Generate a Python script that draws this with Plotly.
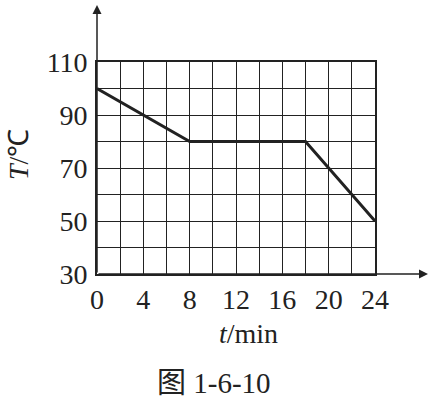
import plotly.graph_objects as go

# Data
time_min = [0, 8, 18, 24]
temp_c = [100, 80, 80, 50]
x_tick_vals = [0, 4, 8, 12, 16, 20, 24]
y_tick_vals = [30, 50, 70, 90, 110]

INK = "#222222"
SERIF = "Liberation Serif, Times New Roman, serif"
CAP_FONT = "Liberation Serif, Noto Sans CJK SC, serif"
FS = 28

fig = go.Figure()
fig.add_trace(go.Scatter(
    x=time_min, y=temp_c, mode="lines",
    line=dict(color=INK, width=3), showlegend=False, hoverinfo="skip",
))

L, R, T, B = 97, 61, 62, 124
W, H = 436, 398
pw, ph = W - L - R, H - T - B
axis_y = H - B  # pixel row of x axis


def px_x(p):
    return (p - L) / pw


def px_y(p):
    return (axis_y - p) / ph


fig.update_layout(
    width=W, height=H,
    margin=dict(l=L, r=R, t=T, b=B, pad=0),
    paper_bgcolor="white", plot_bgcolor="white",
    font=dict(family=SERIF, size=FS, color=INK),
    xaxis=dict(
        range=[0, 24], tickvals=x_tick_vals, ticks="", showgrid=True,
        gridcolor=INK, gridwidth=1.4, zeroline=False,
        showline=True, linecolor=INK, linewidth=1.6, mirror=True,
        minor=dict(dtick=2, showgrid=True, gridcolor=INK, gridwidth=1.4),
        tickfont=dict(family=SERIF, size=FS, color=INK),
        ticklabelstandoff=0,
    ),
    yaxis=dict(
        range=[30, 110], tickvals=y_tick_vals, ticks="", showgrid=True,
        gridcolor=INK, gridwidth=1.4, zeroline=False,
        showline=True, linecolor=INK, linewidth=1.6, mirror=True,
        minor=dict(dtick=10, showgrid=True, gridcolor=INK, gridwidth=1.4),
        tickfont=dict(family=SERIF, size=FS, color=INK),
        ticklabelstandoff=2,
    ),
)

# axis arrows
fig.add_annotation(xref="paper", yref="paper", x=0, y=px_y(5),
                   ax=0, ay=axis_y - 5, axref="pixel", ayref="pixel",
                   showarrow=True, arrowhead=2, arrowsize=1.2, arrowwidth=1.5,
                   arrowcolor=INK, text="")
fig.add_annotation(xref="paper", yref="paper", x=px_x(428), y=0,
                   ax=-(428 - L), ay=0, axref="pixel", ayref="pixel",
                   showarrow=True, arrowhead=2, arrowsize=1.2, arrowwidth=1.5,
                   arrowcolor=INK, text="")

# axis titles
fig.add_annotation(xref="paper", yref="paper", x=px_x(248), y=px_y(333),
                   xanchor="center", yanchor="middle",
                   text="<i>t</i>/min", showarrow=False,
                   font=dict(family=SERIF, size=FS, color=INK))
fig.add_annotation(xref="paper", yref="paper", x=px_x(18), y=px_y(155),
                   xanchor="center", yanchor="middle",
                   text="<i>T</i>/℃", textangle=-90, showarrow=False,
                   font=dict(family=SERIF, size=FS, color=INK))
# caption
fig.add_annotation(xref="paper", yref="paper", x=px_x(214), y=px_y(383),
                   xanchor="center", yanchor="middle",
                   text="图 1-6-10", showarrow=False,
                   font=dict(family=CAP_FONT, size=29, color=INK))

fig.write_html("out.html")
